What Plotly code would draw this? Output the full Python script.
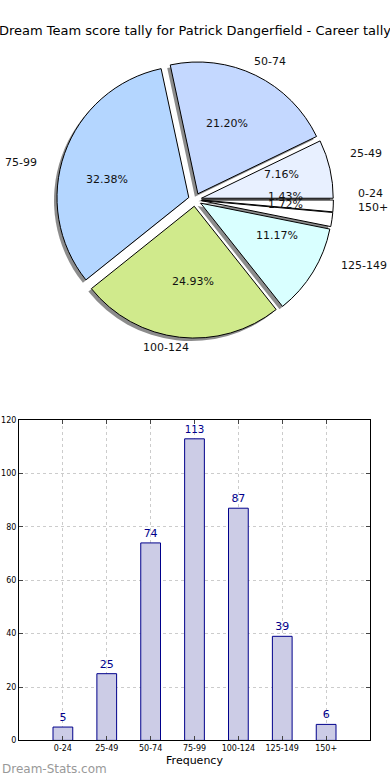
import math
import plotly.graph_objects as go

categories = ["0-24", "25-49", "50-74", "75-99", "100-124", "125-149", "150+"]
counts = [5, 25, 74, 113, 87, 39, 6]
pie_colors = ["#ffffff", "#e8f0ff", "#c4d8ff", "#b4d6ff", "#d0ea8c", "#d9ffff", "#ffffff"]
y_ticks = [0, 20, 40, 60, 80, 100, 120]
title_text = "Dream Team score tally for Patrick Dangerfield - Career tally"

W, H = 390, 780
FONT = "DejaVu Sans"
pull = 0.05
cx, cy = 195, 198          # pie centre in px
outer = 140                # px, incl. pull
R = outer / (1 + pull)
hs, vs = 1.05, 0.95        # reference pie is slightly oval: stretch text positions
lvs = 0.975                # vertical factor for outer labels

def px2paper(x, y):
    return x / W, 1 - y / H

fig = go.Figure()

# shadow pie
sx, sy = -3, 3
dom_sh = dict(x=[(cx + sx - outer) / W, (cx + sx + outer) / W],
              y=[1 - (cy + sy + outer) / H, 1 - (cy + sy - outer) / H])
fig.add_trace(go.Pie(labels=categories, values=counts, sort=False, direction="counterclockwise",
                     rotation=90, pull=[pull] * len(counts), textinfo="none", hoverinfo="skip",
                     marker=dict(colors=["rgba(0,0,0,0.45)"] * len(counts), line=dict(width=0)),
                     domain=dom_sh, showlegend=False))
dom = dict(x=[(cx - outer) / W, (cx + outer) / W],
           y=[1 - (cy + outer) / H, 1 - (cy - outer) / H])
fig.add_trace(go.Pie(labels=categories, values=counts, sort=False, direction="counterclockwise",
                     rotation=90, pull=[pull] * len(counts), textinfo="none",
                     marker=dict(colors=pie_colors, line=dict(width=1, color="black")),
                     domain=dom, showlegend=False))

total = sum(counts)
annotations = []
cum = 0
for lab, v in zip(categories, counts):
    frac = v / total
    mid = (cum + frac / 2) * 2 * math.pi
    cum += frac
    dx, dy = math.cos(mid), math.sin(mid)
    # percentage
    d = (pull + 0.6) * R
    x, y = px2paper(cx + d * dx * hs, cy - d * dy * vs)
    annotations.append(dict(x=x, y=y, xref="paper", yref="paper", text=f"{frac*100:.2f}%",
                            xanchor="center", yanchor="middle",
                            showarrow=False, font=dict(family=FONT, size=11, color="#111111")))
    # label
    d = (pull + 1.1) * R
    x, y = px2paper(cx + d * dx * hs, cy - d * dy * lvs)
    annotations.append(dict(x=x, y=y, xref="paper", yref="paper", text=lab, showarrow=False,
                            xanchor="left" if dx > 0 else "right", yanchor="middle",
                            font=dict(family=FONT, size=11, color="#111111")))

# bar chart
fig.add_trace(go.Bar(x=categories, y=counts, width=0.45, text=[str(c) for c in counts],
                     textposition="outside", cliponaxis=False,
                     textfont=dict(family=FONT, size=11, color="#00008b"),
                     marker=dict(color="#ccccE6", line=dict(color="#00008b", width=1)),
                     xaxis="x", yaxis="y", showlegend=False))

annotations.append(dict(x=0.5, y=1 - 27 / H, xref="paper", yref="paper", text=title_text,
                        xanchor="center", yanchor="middle",
                        showarrow=False, font=dict(family=FONT, size=13, color="black")))
annotations.append(dict(x=0.0, y=1 - 774 / H, xref="paper", yref="paper", text="Dream-Stats.com",
                        xanchor="left", yanchor="middle",
                        showarrow=False, font=dict(family=FONT, size=12, color="#999999")))

grid = dict(showgrid=True, gridcolor="#cccccc", griddash="dot", gridwidth=1)
fig.update_layout(
    width=W, height=H, margin=dict(l=0, r=0, t=0, b=0),
    paper_bgcolor="white", plot_bgcolor="white",
    font=dict(family=FONT, color="black"),
    annotations=annotations,
    xaxis=dict(domain=[19 / W, 370 / W], anchor="y", range=[-1, 7], showline=True, linecolor="black",
               mirror="ticks", ticks="inside", ticklen=4, tickfont=dict(size=8, family=FONT),
               title=dict(text="Frequency", font=dict(size=11, family=FONT), standoff=4), **grid),
    yaxis=dict(domain=[1 - 745 / H, 1 - 421 / H], anchor="x", range=[0, 120], tickvals=y_ticks,
               showline=True, linecolor="black", mirror="ticks", ticks="inside", ticklen=4,
               tickfont=dict(size=8, family=FONT), zeroline=False, **grid),
)

fig.write_html("out.html", config={"displayModeBar": False},
               post_script="document.body.style.margin='0';document.body.style.overflow='hidden';")
